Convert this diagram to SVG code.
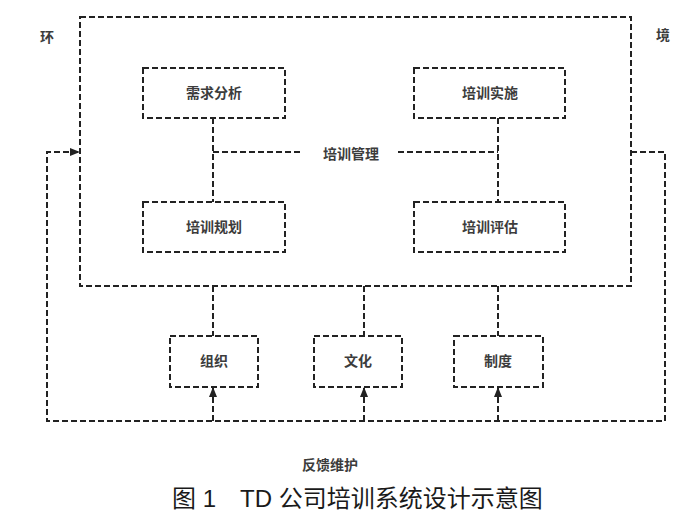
<svg xmlns="http://www.w3.org/2000/svg" width="700" height="526" viewBox="0 0 700 526">
<style>
.d{fill:none;stroke:#222;stroke-width:2;stroke-dasharray:6,3}
.t{font-family:"Noto Sans CJK SC","Noto Sans",sans-serif;font-size:14px;font-weight:bold;fill:#3c3c3c;text-anchor:middle}
.c{font-family:"Liberation Sans","Noto Sans CJK SC",sans-serif;font-size:24px;fill:#1a1a1a}
</style>
<defs>
<marker id="ah" markerWidth="10" markerHeight="8" refX="10" refY="4" orient="auto" markerUnits="userSpaceOnUse">
<path d="M0,0 L10,4 L0,8 z" fill="#222"/>
</marker>
</defs>
<rect width="700" height="526" fill="#fff"/>
<g id="env">
<rect class="d" x="80" y="17" width="551" height="269"/>
<text class="t" x="47" y="42">环</text>
<text class="t" x="663" y="40">境</text>
</g>
<g id="n1"><rect class="d" x="143" y="68" width="142" height="50"/><text class="t" x="214" y="98">需求分析</text></g>
<g id="n2"><rect class="d" x="414" y="68" width="151" height="50"/><text class="t" x="490" y="98">培训实施</text></g>
<g id="n3"><rect class="d" x="143" y="202" width="142" height="50"/><text class="t" x="214" y="232">培训规划</text></g>
<g id="n4"><rect class="d" x="414" y="202" width="151" height="50"/><text class="t" x="490" y="232">培训评估</text></g>
<g id="center"><text class="t" x="351" y="159">培训管理</text></g>
<g id="n5"><rect class="d" x="170" y="336" width="88" height="51"/><text class="t" x="214" y="366">组织</text></g>
<g id="n6"><rect class="d" x="314" y="336" width="88" height="51"/><text class="t" x="358" y="366">文化</text></g>
<g id="n7"><rect class="d" x="454" y="336" width="89" height="51"/><text class="t" x="498" y="366">制度</text></g>
<g id="connectors">
<path class="d" d="M213,118 V202 M213,152 H303 M398,152 H498 M498,118 V202"/>
<path class="d" d="M213,286 V336 M364,286 V336 M498,286 V336"/>
<path class="d" d="M631,152 H665 V421 H47 V152 H80" marker-end="url(#ah)"/>
<path class="d" d="M213,421 V387" marker-end="url(#ah)"/>
<path class="d" d="M364,421 V387" marker-end="url(#ah)"/>
<path class="d" d="M498,421 V387" marker-end="url(#ah)"/>
</g>
<text class="t" x="330" y="470">反馈维护</text>
<text class="c" x="172" y="507">图 1</text>
<text class="c" x="240" y="507">TD 公司培训系统设计示意图</text>
</svg>
